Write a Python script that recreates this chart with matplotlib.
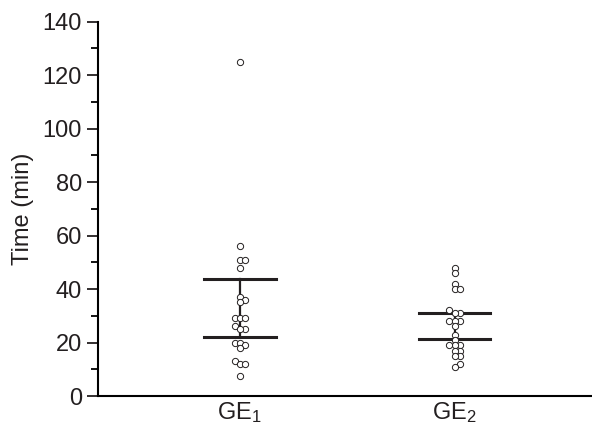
import matplotlib
matplotlib.use("Agg")
import matplotlib.pyplot as plt
import numpy as np

plt.rcParams["font.family"] = ["Liberation Sans", "DejaVu Sans"]
plt.rcParams["mathtext.default"] = "regular"

# values
groups = ["GE$_1$", "GE$_2$"]
ge1 = [125, 56, 51, 51, 48, 37, 36, 35, 29, 29, 29, 26, 25, 25,
       20, 20, 19, 18, 13, 12, 12, 7.5]
ge2 = [48, 46, 42, 40, 40, 32, 31, 31, 28, 28, 28, 26, 23, 21,
       19, 19, 19, 17, 17, 15, 15, 12, 11]
bar_low = [21.9, 21.3]
bar_high = [43.8, 31.2]


def swarm(values, dx, dy):
    """simple beeswarm: offsets so that circles don't overlap too much"""
    placed = []
    offsets = np.zeros(len(values))
    order = np.argsort(values)
    for i in order:
        v = values[i]
        k = 0
        while True:
            cands = [0] if k == 0 else [k, -k]
            ok = None
            for c in cands:
                x = c * dx
                clash = False
                for (px, pv) in placed:
                    if ((x - px) / dx) ** 2 + ((v - pv) / dy) ** 2 < 0.99:
                        clash = True
                        break
                if not clash:
                    ok = x
                    break
            if ok is not None:
                offsets[i] = ok
                placed.append((ok, v))
                break
            k += 1
    return offsets


fig = plt.figure(figsize=(5.92, 4.26), dpi=100)
ax = fig.add_axes([0.1655, 0.0704, 0.8345, 0.8786])

# min spacing between circle centres in data units (about 5 px)
dx = 5.2 / 215.0
dy = 5.2 / 2.674

for i, vals in enumerate([ge1, ge2]):
    pos = i + 1
    vals = np.array(vals, dtype=float)
    ax.plot([pos, pos], [bar_low[i], bar_high[i]], color="#231f20", lw=1.6, zorder=1)
    ax.plot([pos - 0.167, pos + 0.167], [bar_low[i], bar_low[i]], color="#231f20", lw=2.2, zorder=1)
    ax.plot([pos - 0.167, pos + 0.167], [bar_high[i], bar_high[i]], color="#231f20", lw=2.2, zorder=1)
    off = swarm(vals, dx, dy)
    ax.plot(pos + off, vals, "o", ms=4.5, mfc="white", mec="#231f20", mew=0.7, zorder=3)

ax.set_xlim(0.34, 2.64)
ax.set_ylim(0, 140)
ax.set_yticks(np.arange(0, 141, 20))
ax.set_yticks(np.arange(10, 140, 20), minor=True)
ax.set_xticks([1, 2])
ax.set_xticklabels(groups)
ax.tick_params(axis="y", which="major", length=8, width=1.3, labelsize=17, pad=3.5, colors="#231f20")
ax.tick_params(axis="y", which="minor", length=5, width=1.3)
ax.tick_params(axis="x", length=0, labelsize=17, pad=3, colors="#231f20")
ax.spines["top"].set_visible(False)
ax.spines["right"].set_visible(False)
ax.spines["left"].set_linewidth(1.5)
ax.spines["bottom"].set_linewidth(1.5)
ax.set_ylabel("Time (min)", fontsize=17, color="#231f20", labelpad=6)

plt.savefig("out.png", dpi=100)
